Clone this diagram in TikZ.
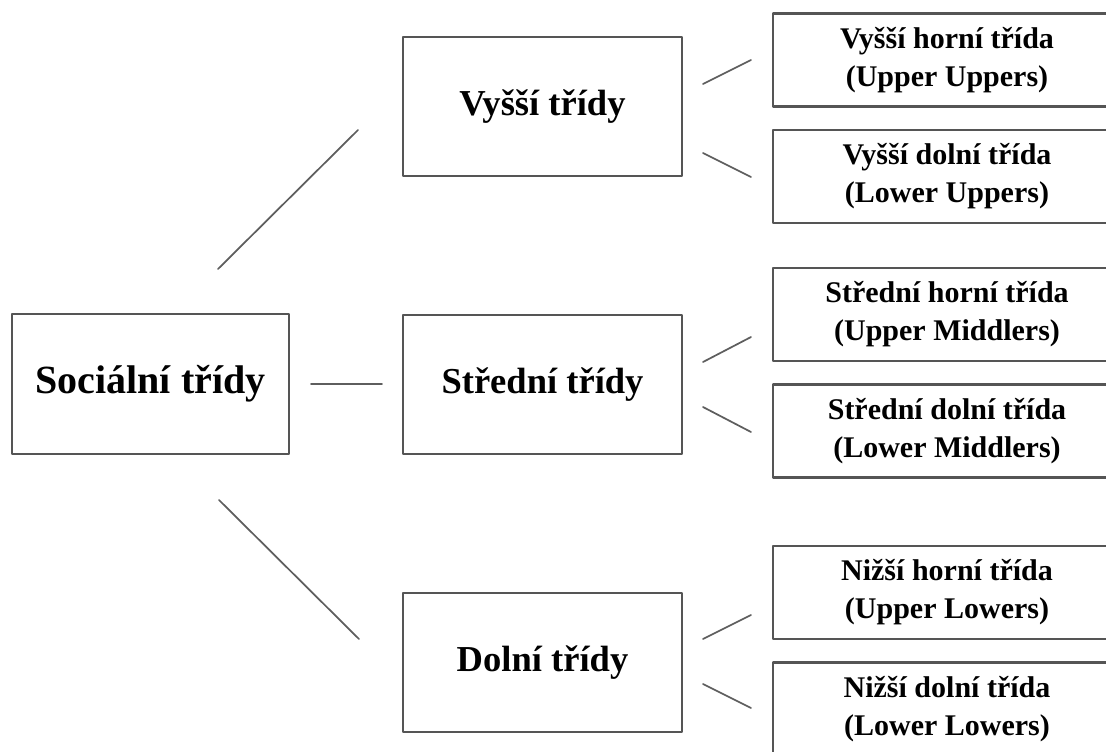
\documentclass[tikz,border=0pt]{standalone}
\usepackage{fontspec}
\setmainfont{Liberation Serif}
\usepackage[usenames]{xcolor}
\usepackage{tikz}
\definecolor{boxgray}{HTML}{555555}
\definecolor{linegray}{HTML}{5E5E5E}

\begin{document}
\begin{tikzpicture}[line cap=round,line join=round,x=0.75pt,y=-0.75pt,
  box/.style={draw=boxgray,line width=1.8pt,fill=white,inner sep=0pt,align=center},
  topbox/.style={box,minimum width=207.75pt,minimum height=105pt,font=\bfseries\fontsize{30}{36}\selectfont},
  midbox/.style={box,minimum width=209.25pt,minimum height=104.25pt,font=\bfseries\fontsize{27.4}{33}\selectfont},
  subbox/.style={box,minimum width=261pt,minimum height=70pt,font=\bfseries\fontsize{22.5}{28.5}\selectfont},
  link/.style={draw=linegray,line width=1.3pt}]
\useasboundingbox (0,0) rectangle (1106,751);
\clip (0,0) rectangle (1106,751);
\node[topbox] (soc) at (150.5,384) {Sociální třídy};
\node[midbox] (vyssi) at (542.5,106.5) {Vyšší třídy};
\node[midbox] (stredni) at (542.5,384.5) {Střední třídy};
\node[midbox] (dolni) at (542.5,662.5) {Dolní třídy};
\node[subbox] (vh) at (947,60) {Vyšší horní třída\\(Upper Uppers)};
\node[subbox] (vd) at (947,176.5) {Vyšší dolní třída\\(Lower Uppers)};
\node[subbox] (sh) at (947,314.5) {Střední horní třída\\(Upper Middlers)};
\node[subbox] (sd) at (947,431) {Střední dolní třída\\(Lower Middlers)};
\node[subbox] (nh) at (947,592.5) {Nižší horní třída\\(Upper Lowers)};
\node[subbox] (nd) at (947,709) {Nižší dolní třída\\(Lower Lowers)};
% loose line ends
\coordinate (socA) at (218,269);
\coordinate (vyssiA) at (358,130);
\coordinate (socB) at (311,384);
\coordinate (strednB) at (382,384);
\coordinate (socC) at (219,500);
\coordinate (dolniC) at (359,639);
\coordinate (vyssiH) at (703,84);
\coordinate (vhA) at (751,60);
\coordinate (vyssiD) at (703,153);
\coordinate (vdA) at (751,177);
\coordinate (strednH) at (703,362);
\coordinate (shA) at (751,337);
\coordinate (strednD) at (703,407);
\coordinate (sdA) at (751,432);
\coordinate (dolniH) at (703,639);
\coordinate (nhA) at (751,615);
\coordinate (dolniD) at (703,684);
\coordinate (ndA) at (751,708);
\draw[link] (socA) -- (vyssiA);
\draw[link] (socB) -- (strednB);
\draw[link] (socC) -- (dolniC);
\draw[link] (vyssiH) -- (vhA);
\draw[link] (vyssiD) -- (vdA);
\draw[link] (strednH) -- (shA);
\draw[link] (strednD) -- (sdA);
\draw[link] (dolniH) -- (nhA);
\draw[link] (dolniD) -- (ndA);
\end{tikzpicture}
\end{document}
